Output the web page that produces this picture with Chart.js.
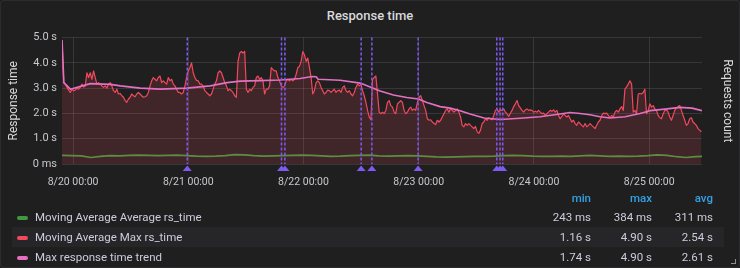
<!DOCTYPE html>
<html>
<head>
<meta charset="utf-8">
<script src="https://cdn.jsdelivr.net/npm/chart.js@4.4.0/dist/chart.umd.min.js"></script>
<style>
  html, body { margin: 0; padding: 0; background: #161719; }
  #panel {
    position: absolute; left: 0; top: 0; width: 740px; height: 268px;
    background: #1f1f20; box-shadow: inset 0 0 0 1px #2c2c2f; border-radius: 3px;
    font-family: Roboto, "Noto Sans", sans-serif; color: #ccccdc; overflow: hidden;
  }
  #title {
    position: absolute; left: 0; top: 8px; width: 740px; text-align: center;
    font-size: 13px; font-weight: 500; color: #d8d9da; line-height: 16px;
  }
  #chartBox { position: absolute; left: 0; top: 26px; width: 740px; height: 170px; }
  .row { position: absolute; left: 12px; width: 712px; height: 20px; font-size: 11.5px; line-height: 20px; }
  .row.striped { background: #262628; }
  .swatch { position: absolute; left: 5px; top: 9px; width: 11px; height: 4px; border-radius: 2px; }
  .name { position: absolute; left: 23px; top: 0; white-space: nowrap; }
  .val { position: absolute; top: 0; text-align: right; white-space: nowrap; }
  .hdr { color: #33a2e5; font-weight: 500; }
  #resize { position: absolute; left: 731px; top: 259px; width: 4px; height: 4px;
    border-right: 1px solid #8e8e8e; border-bottom: 1px solid #8e8e8e; }
</style>
</head>
<body>
<div id="panel">
  <div id="title">Response time</div>
  <div id="chartBox"><canvas id="responseChart"></canvas></div>
  <div id="legend"></div>
  <div id="resize"></div>
</div>
<script>
// time axis is in hours since 8/20 00:00
const xTickHours = [0, 24, 48, 72, 96, 120];
const xTickLabels = ["8/20 00:00", "8/21 00:00", "8/22 00:00", "8/23 00:00", "8/24 00:00", "8/25 00:00"];
const yTickValues = [0, 1, 2, 3, 4, 5];

// Moving Average Max rs_time, one sample every ~20.75 min
const redStartHour = -2.296;
const redStepHours = 0.34586;
const redValues = [
  4.91, 3.22, 3.16, 3.03, 2.92, 2.83, 2.96, 2.90, 2.92, 3.00, 2.96, 3.03, 3.16, 3.05, 3.09, 3.61,
  3.42, 3.61, 3.35, 3.68, 3.42, 3.16, 3.22, 3.16, 3.09, 3.03, 3.09, 3.00, 3.16, 3.22, 3.09, 2.90,
  2.83, 2.96, 2.77, 2.79, 2.70, 2.64, 2.51, 2.44, 2.57, 2.64, 2.77, 2.70, 2.66, 2.77, 2.83, 2.77,
  2.70, 2.64, 2.66, 2.70, 2.83, 3.09, 3.29, 3.42, 3.35, 3.29, 3.42, 3.48, 3.22, 3.29, 3.22, 3.16,
  3.42, 3.29, 3.35, 3.16, 3.09, 2.96, 2.83, 2.83, 2.77, 2.83, 3.09, 3.42, 3.68, 3.81, 4.00, 3.61,
  3.42, 3.31, 3.29, 3.16, 3.16, 3.09, 2.90, 2.83, 2.77, 2.70, 2.77, 2.96, 3.16, 3.29, 3.61, 3.68,
  3.61, 3.42, 3.22, 3.09, 2.90, 2.96, 2.90, 2.83, 2.70, 2.64, 4.06, 4.39, 4.45, 4.39, 4.45, 2.96,
  2.83, 2.96, 2.90, 3.03, 3.09, 3.42, 3.48, 3.35, 3.42, 3.29, 2.77, 2.96, 2.96, 3.09, 3.81, 3.74, 3.68,
  3.68, 3.42, 3.29, 3.09, 3.03, 3.09, 3.29, 3.35, 3.29, 3.35, 3.29, 3.35, 3.55, 3.81, 3.87, 4.06,
  4.45, 4.32, 4.06, 4.19, 3.81, 3.42, 2.77, 2.90, 3.22, 3.29, 3.22, 3.03, 2.90, 2.77, 2.83, 2.92,
  2.90, 2.83, 2.90, 2.96, 2.83, 2.90, 2.92, 2.83, 3.03, 3.09, 2.90, 2.83, 2.90, 2.77, 2.70, 2.83,
  3.03, 3.16, 3.09, 3.16, 2.90, 2.70, 2.44, 2.12, 1.86, 1.75, 3.35, 3.42, 3.48, 2.77, 2.05, 1.99, 2.05,
  1.99, 2.12, 2.44, 2.51, 2.31, 2.25, 2.05, 1.99, 2.38, 2.44, 2.51, 2.44, 2.12, 1.99, 2.05, 2.18,
  2.25, 2.12, 2.18, 2.12, 2.44, 2.64, 2.70, 2.51, 2.31, 2.12, 1.79, 1.73, 1.75, 1.66, 1.60, 1.56,
  1.73, 1.66, 1.73, 1.86, 1.99, 2.12, 2.18, 2.05, 2.18, 2.12, 2.05, 2.12, 2.18, 2.05, 1.86, 1.53,
  1.47, 1.60, 1.53, 1.60, 1.53, 1.47, 1.40, 1.49, 1.27, 1.21, 1.34, 1.60, 1.66, 1.79, 1.73, 1.83, 1.79,
  1.75, 1.92, 2.12, 2.18, 2.05, 2.14, 2.12, 2.18, 2.05, 1.99, 1.88, 2.01, 2.12, 2.27, 2.38, 2.51,
  2.31, 2.22, 2.12, 2.05, 2.14, 2.18, 2.12, 2.14, 2.12, 2.05, 2.09, 2.05, 2.12, 2.05, 1.99, 2.01,
  1.92, 1.99, 2.05, 2.12, 2.09, 2.14, 2.05, 2.12, 1.92, 1.79, 1.88, 1.99, 1.92, 1.86, 1.92, 1.79,
  1.66, 1.73, 1.60, 1.53, 1.66, 1.60, 1.53, 1.47, 1.60, 1.47, 1.53, 1.60, 1.53, 1.47, 1.40, 1.53, 1.66,
  1.73, 1.92, 2.01, 1.99, 2.01, 1.92, 1.83, 1.92, 1.86, 2.05, 2.12, 2.05, 2.18, 2.27, 2.12, 2.96,
  3.05, 3.16, 3.29, 3.16, 2.05, 2.12, 1.99, 2.77, 2.79, 2.77, 2.83, 2.96, 1.99, 2.12, 2.38, 2.25,
  2.31, 2.18, 2.12, 1.92, 1.83, 1.79, 1.99, 2.12, 2.14, 2.05, 1.86, 1.73, 1.92, 2.12, 2.22, 2.27,
  2.31, 2.12, 1.92, 1.73, 1.53, 1.60, 1.79, 1.83, 1.66, 1.60, 1.53, 1.40, 1.34, 1.27
];

// Moving Average Average rs_time, one sample every 2 h
const greenStartHour = -2.3;
const greenStepHours = 2;
const greenValues = [
  0.34, 0.33, 0.32, 0.26, 0.30, 0.33, 0.32, 0.34, 0.35, 0.34,
  0.33, 0.34, 0.35, 0.33, 0.31, 0.30, 0.31, 0.33, 0.37, 0.36,
  0.33, 0.31, 0.32, 0.33, 0.34, 0.35, 0.34, 0.32, 0.30, 0.31,
  0.33, 0.34, 0.35, 0.32, 0.31, 0.32, 0.33, 0.32, 0.30, 0.28,
  0.27, 0.28, 0.29, 0.30, 0.30, 0.31, 0.33, 0.34, 0.33, 0.31,
  0.30, 0.30, 0.31, 0.30, 0.32, 0.34, 0.32, 0.30, 0.31, 0.30,
  0.31, 0.33, 0.36, 0.34, 0.29, 0.26, 0.29, 0.31
];

// Max response time trend
const pinkHours = [
  -2.29, -1.91, -0.56, 3.60, 7.77, 9.85, 14.01, 18.17, 23.72, 28.58, 32.06, 34.83, 38.99, 43.15,
  47.31, 49.81, 50.64, 51.05, 55.64, 59.80, 63.96, 66.73, 69.52, 71.94, 73.69, 76.46, 78.54, 80.62,
  82.70, 85.62, 88.94, 93.11, 97.27, 101.43, 103.51, 105.59, 107.67, 109.76, 111.84, 114.96,
  118.09, 120.17, 123.29, 126.41, 128.91, 130.99
];
const pinkValues = [
  4.90, 3.22, 2.96, 3.18, 3.15, 3.09, 3.00, 2.96, 3.00, 3.09, 3.22, 3.28, 3.30, 3.32,
  3.38, 3.46, 3.45, 3.35, 3.31, 3.20, 2.89, 2.73, 2.63, 2.57, 2.43, 2.27, 2.21, 2.11,
  1.98, 1.82, 1.76, 1.81, 1.87, 1.98, 2.04, 2.00, 1.95, 1.87, 1.82, 1.87,
  2.00, 2.11, 2.17, 2.24, 2.21, 2.11
];

// annotation events (hours)
const annotationHours = [23.79, 43.42, 44.13, 60.01, 62.24, 71.87, 88.26, 88.94, 89.50];

const legendNames = ["Moving Average Average rs_time", "Moving Average Max rs_time", "Max response time trend"];
const legendColors = ["#3f9a3f", "#f2495c", "#e56fc0"];
const legendMin = ["243 ms", "1.16 s", "1.74 s"];
const legendMax = ["384 ms", "4.90 s", "4.90 s"];
const legendAvg = ["311 ms", "2.54 s", "2.61 s"];

const annotationColor = "#7f5af0";
const gridColor = "rgba(204, 204, 220, 0.14)";
const tickColor = "#c7c8cc";

Chart.defaults.font.family = "Roboto, 'Noto Sans', sans-serif";

const redPoints = redValues.map((v, i) => ({ x: redStartHour + i * redStepHours, y: v }));
const greenPoints = greenValues.map((v, i) => ({ x: greenStartHour + i * greenStepHours, y: v }));
const pinkPoints = pinkValues.map((v, i) => ({ x: pinkHours[i], y: v }));

const annotationMarks = {
  id: "annotationMarks",
  afterDatasetsDraw(chart) {
    const { ctx, chartArea, scales } = chart;
    ctx.save();
    ctx.strokeStyle = annotationColor;
    ctx.lineWidth = 1.5;
    ctx.setLineDash([3, 2]);
    annotationHours.forEach((h) => {
      const x = scales.x.getPixelForValue(h);
      ctx.beginPath();
      ctx.moveTo(x, chartArea.top);
      ctx.lineTo(x, chartArea.bottom);
      ctx.stroke();
    });
    ctx.setLineDash([]);
    ctx.fillStyle = annotationColor;
    annotationHours.forEach((h) => {
      const x = scales.x.getPixelForValue(h);
      ctx.beginPath();
      ctx.moveTo(x, chartArea.bottom + 1.5);
      ctx.lineTo(x + 4.5, chartArea.bottom + 7);
      ctx.lineTo(x - 4.5, chartArea.bottom + 7);
      ctx.closePath();
      ctx.fill();
    });
    ctx.restore();
  }
};

new Chart(document.getElementById("responseChart"), {
  type: "line",
  data: {
    datasets: [
      { label: legendNames[2], data: pinkPoints, borderColor: legendColors[2], borderWidth: 1.6, order: 0 },
      { label: legendNames[1], data: redPoints, borderColor: legendColors[1], borderWidth: 1.2,
        backgroundColor: "rgba(242, 73, 92, 0.16)", fill: "origin", order: 1 },
      { label: legendNames[0], data: greenPoints, borderColor: legendColors[0], borderWidth: 1.6, order: 2 }
    ]
  },
  options: {
    animation: false,
    responsive: true,
    maintainAspectRatio: false,
    layout: { padding: { top: 10, left: 0, right: 0, bottom: 0 } },
    elements: { point: { radius: 0 }, line: { tension: 0, borderJoinStyle: "round" } },
    plugins: { legend: { display: false }, tooltip: { enabled: false } },
    scales: {
      x: {
        type: "linear",
        min: -2.3,
        max: 131,
        border: { display: false },
        grid: { color: gridColor, drawTicks: false },
        afterBuildTicks: (scale) => { scale.ticks = xTickHours.map((v) => ({ value: v })); },
        afterFit: (scale) => { scale.height = 32; },
        ticks: {
          color: tickColor, font: { size: 10.5 }, padding: 12, autoSkip: false, maxRotation: 0,
          callback: (value, index) => xTickLabels[index]
        }
      },
      y: {
        min: 0,
        max: 5,
        border: { display: false },
        grid: { color: gridColor, drawTicks: false },
        afterBuildTicks: (scale) => { scale.ticks = yTickValues.map((v) => ({ value: v })); },
        afterFit: (scale) => { scale.width = 62; },
        ticks: {
          color: tickColor, font: { size: 11 }, padding: 5,
          callback: (value) => (value === 0 ? "0 ms" : value.toFixed(1) + " s")
        },
        title: { display: true, text: "Response time", color: "#d8d9da", font: { size: 12 }, padding: { top: 7, bottom: 0 } }
      },
      y1: {
        position: "right",
        border: { display: false },
        grid: { display: false },
        ticks: { display: false },
        afterFit: (scale) => { scale.width = 38; },
        title: { display: true, text: "Requests count", color: "#d8d9da", font: { size: 12 }, padding: { top: 6, bottom: 0 } }
      }
    }
  },
  plugins: [annotationMarks]
});

// legend table
const legend = document.getElementById("legend");
const header = document.createElement("div");
header.className = "row hdr";
header.style.top = "188px";
header.innerHTML =
  '<span class="val" style="right:133px">min</span>' +
  '<span class="val" style="right:72px">max</span>' +
  '<span class="val" style="right:11px">avg</span>';
legend.appendChild(header);

legendNames.forEach((name, i) => {
  const row = document.createElement("div");
  row.className = "row" + (i === 1 ? " striped" : "");
  row.style.top = (207 + i * 20) + "px";
  row.innerHTML =
    '<span class="swatch" style="background:' + legendColors[i] + '"></span>' +
    '<span class="name">' + name + "</span>" +
    '<span class="val" style="right:133px">' + legendMin[i] + "</span>" +
    '<span class="val" style="right:72px">' + legendMax[i] + "</span>" +
    '<span class="val" style="right:11px">' + legendAvg[i] + "</span>";
  legend.appendChild(row);
});
</script>
</body>
</html>
